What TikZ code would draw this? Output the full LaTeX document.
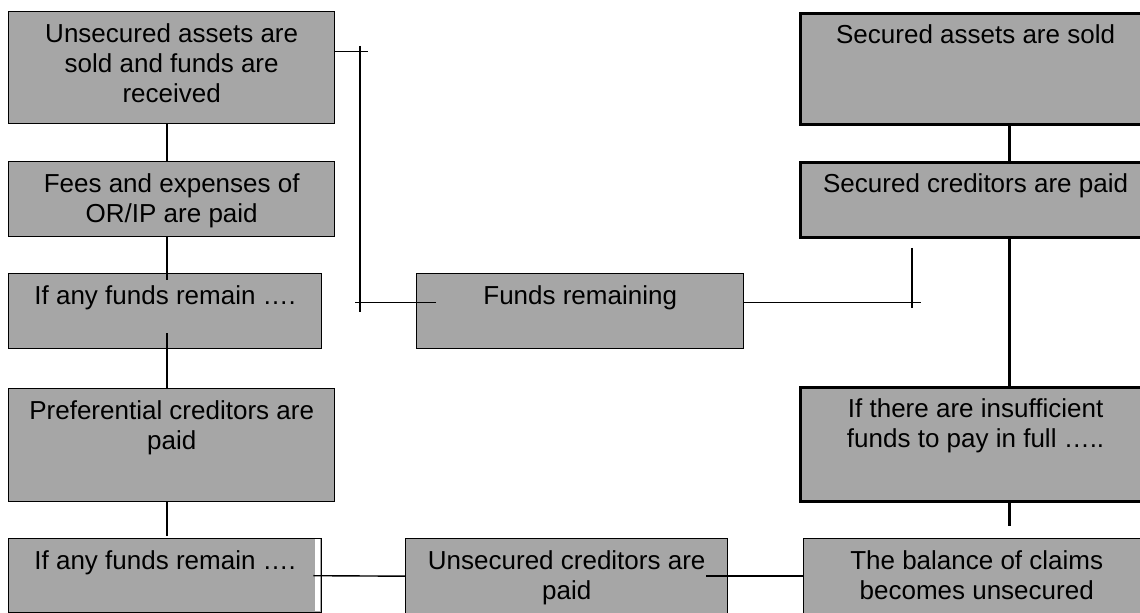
\documentclass[tikz,border=0pt]{standalone}
\usepackage{fontspec}
\setmainfont{Liberation Sans}
\usetikzlibrary{positioning}

\definecolor{stagegray}{RGB}{166,166,166}

\tikzset{
  stage/.style={draw=black, fill=stagegray, line width=0.7pt, anchor=north west, inner sep=0pt},
  heavy stage/.style={stage, line width=1.6pt},
  stage text/.style={align=center, inner sep=0pt, font=\fontsize{13pt}{15pt}\selectfont},
  thin link/.style={line width=0.7pt},
  thick link/.style={line width=1.5pt}
}

\begin{document}
\begin{tikzpicture}[x=0.5pt, y=-0.5pt]
  \clip (0,0) rectangle (1140,613);

  % unsecured side
  \node[stage, minimum width=163pt, minimum height=56pt] (unsold) at (8,11) {};
  \node[stage text, below=6pt of unsold.north] (unsold-t) {Unsecured assets are\\sold and funds are\\received};
  \node[stage, minimum width=163pt, minimum height=37.5pt] (fees) at (8,161) {};
  \node[stage text, below=6pt of fees.north] (fees-t) {Fees and expenses of\\OR/IP are paid};
  \node[stage, minimum width=156.5pt, minimum height=37.5pt] (remain1) at (8,273) {};
  \node[stage text, below=6pt of remain1.north] (remain1-t) {If any funds remain ….};
  \node[stage, minimum width=163pt, minimum height=56.5pt] (pref) at (8,388) {};
  \node[stage text, below=6pt of pref.north] (pref-t) {Preferential creditors are\\paid};
  \node[stage, minimum width=156.5pt, minimum height=37pt] (remain2) at (8,538) {};
  \fill[white] (315,539.5) rectangle (319.8,611.5);
  \node[stage text, below=6pt of remain2.north] (remain2-t) {If any funds remain ….};

  % middle
  \node[stage, minimum width=163.5pt, minimum height=37.5pt] (fundsrem) at (416,273) {};
  \node[stage text, below=6pt of fundsrem.north] (fundsrem-t) {Funds remaining};
  \node[stage, minimum width=161pt, minimum height=37.5pt] (unsecpaid) at (405,538) {};
  \node[stage text, below=6pt of unsecpaid.north] (unsecpaid-t) {Unsecured creditors are\\paid};

  % secured side
  \node[heavy stage, minimum width=175pt, minimum height=55.5pt] (secsold) at (799,12) {};
  \node[stage text, below=6pt of secsold.north] (secsold-t) {Secured assets are sold};
  \node[heavy stage, minimum width=175pt, minimum height=37.5pt] (secpaid) at (799,161) {};
  \node[stage text, below=6pt of secpaid.north] (secpaid-t) {Secured creditors are paid};
  \node[heavy stage, minimum width=175pt, minimum height=57pt] (insuff) at (799,386) {};
  \node[stage text, below=6pt of insuff.north] (insuff-t) {If there are insufficient\\funds to pay in full …..};
  \node[stage, minimum width=173pt, minimum height=37.5pt] (balance) at (803,538) {};
  \node[stage text, below=6pt of balance.north] (balance-t) {The balance of claims\\becomes unsecured};

  \coordinate (lcol) at (167,0);
  \coordinate (rcol) at (1009,0);
  \coordinate (ltop) at (360,46);
  \coordinate (lbot) at (360,312);
  \coordinate (rtop) at (912,248);
  \coordinate (rbot) at (912,308);

  \draw[thin link] (unsold.south -| lcol) -- (fees.north -| lcol);
  \draw[thin link] (fees.south -| lcol) -- ++(0,43);
  \draw[thin link] (pref.north -| lcol) -- ++(0,-55);
  \draw[thin link] (pref.south -| lcol) -- ++(0,34);

  \draw[thin link] ([yshift=8pt]unsold.east) -- ++(33,0);
  \draw[thin link] (ltop) -- (lbot);
  \draw[thin link] ([xshift=10pt,yshift=4.25pt]fundsrem.west) -- ++(-81,0);
  \draw[thin link] ([yshift=4.25pt]fundsrem.east) -- ++(177,0);
  \draw[thin link] (rtop) -- (rbot);

  \draw[thick link] (secsold.south -| rcol) -- (secpaid.north -| rcol);
  \draw[thick link] (secpaid.south -| rcol) -- (insuff.north -| rcol);
  \draw[thick link] (insuff.south -| rcol) -- ++(0,23);

  \draw[thin link] ([xshift=-4.5pt]remain2.east) -- (unsecpaid.west);
  \draw[thin link] ([xshift=-11pt]unsecpaid.east) -- (balance.west);
\end{tikzpicture}
\end{document}
